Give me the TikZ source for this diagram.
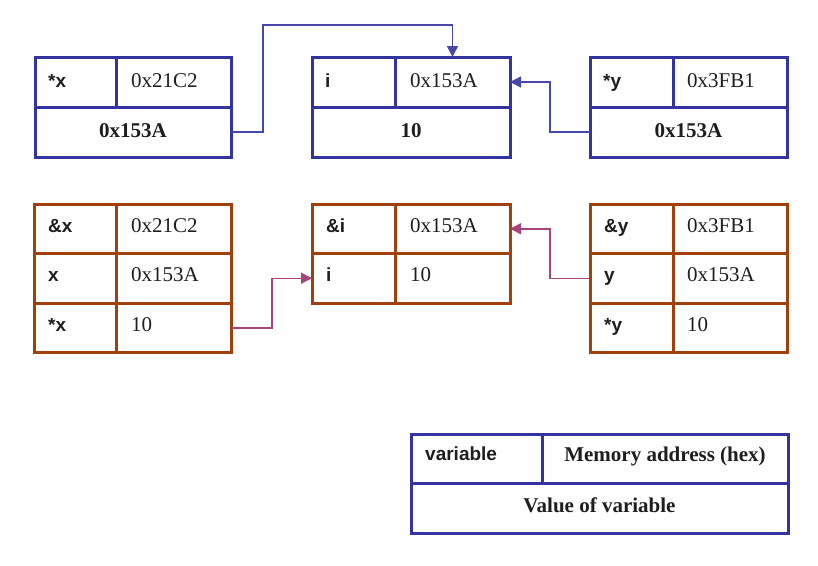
\documentclass[tikz,border=0pt]{standalone}
\usepackage{fontspec}
\setmainfont{Liberation Serif}
\setsansfont{Liberation Sans}
\usetikzlibrary{arrows.meta}
\definecolor{bblue}{HTML}{3434A0}
\definecolor{lblue}{HTML}{4848AC}
\definecolor{bbrown}{HTML}{A0400C}
\definecolor{lmag}{HTML}{A8447C}
\definecolor{txt}{HTML}{1E1E1E}
\begin{document}
\begin{tikzpicture}[x=1pt,y=-1pt,
  cellb/.style={draw=bblue, line width=3pt, inner sep=0pt, outer sep=0pt, anchor=north west, minimum height=50pt},
  cellr/.style={draw=bbrown, line width=3pt, inner sep=0pt, outer sep=0pt, anchor=north west, minimum height=49.5pt},
  lbl/.style={font=\sffamily\bfseries\fontsize{19}{19}\selectfont, text=txt, anchor=base west, inner sep=0pt},
  val/.style={font=\fontsize{21}{21}\selectfont, text=txt, anchor=base west, inner sep=0pt},
  bval/.style={font=\bfseries\fontsize{21}{21}\selectfont, text=txt, anchor=base, inner sep=0pt},
  conb/.style={draw=lblue, line width=1.5pt, -{Triangle[length=11pt,width=11pt]}},
  conr/.style={draw=lmag, line width=1.5pt, -{Triangle[length=11pt,width=11pt]}}
]
\useasboundingbox (0,0) rectangle (818,565);
\fill[white] (0,0) rectangle (818,565);

% ---------- top row (blue) ----------
% TL
\node[cellb, minimum width=81pt] (TLn) at (35,57) {};
\node[cellb, minimum width=115pt] (TLa) at (116,57) {};
\node[cellb, minimum width=196pt] (TLv) at (35,107) {};
\node[lbl] at ([xshift=13pt,yshift=-5pt]TLn.west) {*x};
\node[val] at ([xshift=15pt,yshift=-5pt]TLa.west) {0x21C2};
\node[bval] at ([yshift=-5pt]TLv.center) {0x153A};
% TM
\node[cellb, minimum width=83pt] (TMn) at (312,57) {};
\node[cellb, minimum width=115pt] (TMa) at (395,57) {};
\node[cellb, minimum width=198pt] (TMv) at (312,107) {};
\node[lbl] at ([xshift=13pt,yshift=-5pt]TMn.west) {i};
\node[val] at ([xshift=15pt,yshift=-5pt]TMa.west) {0x153A};
\node[bval] at ([yshift=-5pt]TMv.center) {10};
% TR
\node[cellb, minimum width=83pt] (TRn) at (590,57) {};
\node[cellb, minimum width=114pt] (TRa) at (673,57) {};
\node[cellb, minimum width=197pt] (TRv) at (590,107) {};
\node[lbl] at ([xshift=13pt,yshift=-5pt]TRn.west) {*y};
\node[val] at ([xshift=14pt,yshift=-5pt]TRa.west) {0x3FB1};
\node[bval] at ([yshift=-5pt]TRv.center) {0x153A};

\coordinate (k1) at (263,25);
\draw[conb] (TLv.east) -| (k1) -| (TMa.north);
\draw[conb] (TRv.west) -- ++(-40,0) |- (TMa.east);

% ---------- bottom row (brown) ----------
% BL
\node[cellr, minimum width=82pt] (BL1n) at (34,204) {};
\node[cellr, minimum width=115pt] (BL1a) at (116,204) {};
\node[cellr, minimum width=82pt] (BL2n) at (34,253.5) {};
\node[cellr, minimum width=115pt] (BL2a) at (116,253.5) {};
\node[cellr, minimum width=82pt] (BL3n) at (34,303) {};
\node[cellr, minimum width=115pt] (BL3a) at (116,303) {};
\node[lbl] at ([xshift=14pt,yshift=-3.5pt]BL1n.west) {\&x};
\node[val] at ([xshift=15pt,yshift=-3.5pt]BL1a.west) {0x21C2};
\node[lbl] at ([xshift=14pt,yshift=-3.5pt]BL2n.west) {x};
\node[val] at ([xshift=15pt,yshift=-3.5pt]BL2a.west) {0x153A};
\node[lbl] at ([xshift=14pt,yshift=-3.5pt]BL3n.west) {*x};
\node[val] at ([xshift=15pt,yshift=-3.5pt]BL3a.west) {10};
% BM
\node[cellr, minimum width=83pt] (BM1n) at (312,204) {};
\node[cellr, minimum width=115pt] (BM1a) at (395,204) {};
\node[cellr, minimum width=83pt] (BM2n) at (312,253.5) {};
\node[cellr, minimum width=115pt] (BM2a) at (395,253.5) {};
\node[lbl] at ([xshift=14pt,yshift=-3.5pt]BM1n.west) {\&i};
\node[val] at ([xshift=15pt,yshift=-3.5pt]BM1a.west) {0x153A};
\node[lbl] at ([xshift=14pt,yshift=-3.5pt]BM2n.west) {i};
\node[val] at ([xshift=15pt,yshift=-3.5pt]BM2a.west) {10};
% BR
\node[cellr, minimum width=83pt] (BR1n) at (590,204) {};
\node[cellr, minimum width=114pt] (BR1a) at (673,204) {};
\node[cellr, minimum width=83pt] (BR2n) at (590,253.5) {};
\node[cellr, minimum width=114pt] (BR2a) at (673,253.5) {};
\node[cellr, minimum width=83pt] (BR3n) at (590,303) {};
\node[cellr, minimum width=114pt] (BR3a) at (673,303) {};
\node[lbl] at ([xshift=14pt,yshift=-3.5pt]BR1n.west) {\&y};
\node[val] at ([xshift=14pt,yshift=-3.5pt]BR1a.west) {0x3FB1};
\node[lbl] at ([xshift=14pt,yshift=-3.5pt]BR2n.west) {y};
\node[val] at ([xshift=14pt,yshift=-3.5pt]BR2a.west) {0x153A};
\node[lbl] at ([xshift=14pt,yshift=-3.5pt]BR3n.west) {*y};
\node[val] at ([xshift=14pt,yshift=-3.5pt]BR3a.west) {10};

\draw[conr] (BL3a.east) -- ++(41,0) |- (BM2n.west);
\draw[conr] (BR2n.west) -- ++(-40,0) |- (BM1a.east);

% ---------- legend ----------
\node[cellb, minimum width=131pt, minimum height=49.5pt] (LGn) at (411,434) {};
\node[cellb, minimum width=246pt, minimum height=49.5pt] (LGa) at (542,434) {};
\node[cellb, minimum width=377pt, minimum height=50pt] (LGv) at (411,483.5) {};
\node[lbl] at ([xshift=14pt,yshift=-2pt]LGn.west) {variable};
\node[bval] at ([yshift=-3pt]LGa.center) {Memory address (hex)};
\node[bval] at ([yshift=-4pt]LGv.center) {Value of variable};
\end{tikzpicture}
\end{document}
